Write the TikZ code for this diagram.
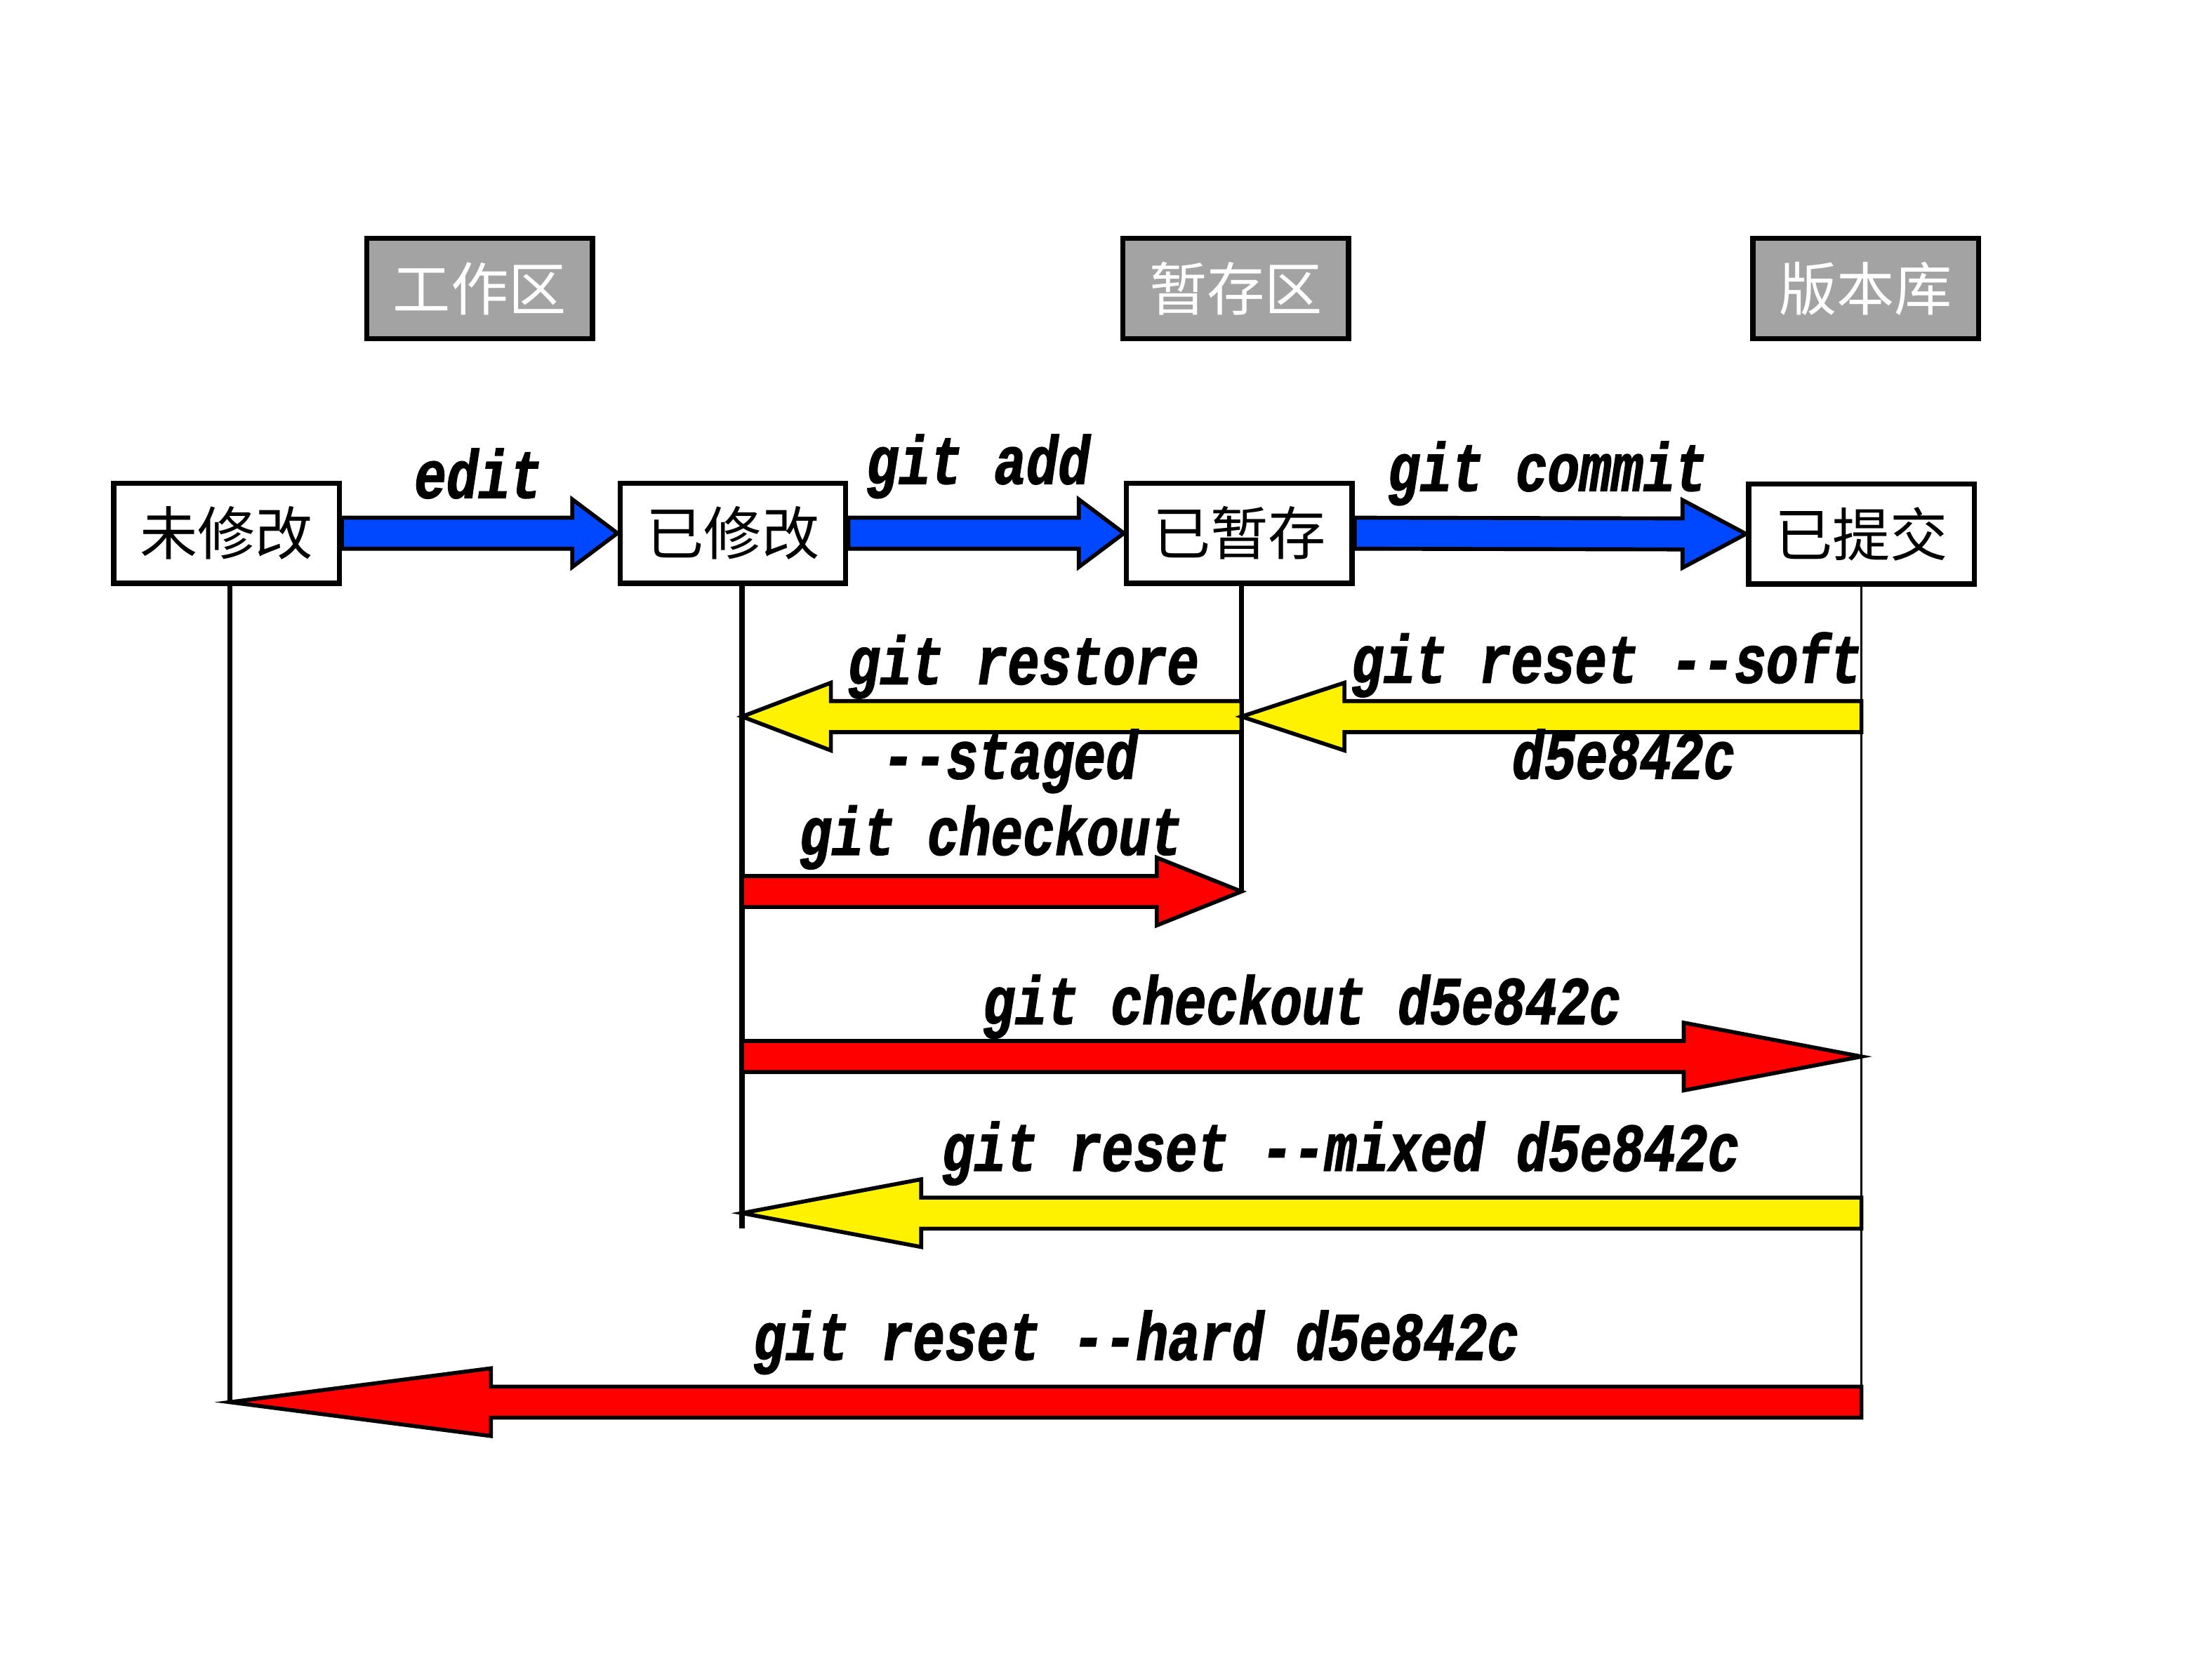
\documentclass[tikz,border=0pt]{standalone}
\usepackage{fontspec}
\newfontfamily\cjk{Noto Sans CJK SC}
\newfontfamily\codefont[FakeStretch=0.78, FakeBold=1.6]{Liberation Mono}
\usetikzlibrary{calc}
\definecolor{boxgray}{RGB}{163,163,163}
\definecolor{addblue}{RGB}{0,72,255}
\newcommand{\dd}{-\kern0pt-}
% block arrow: fill, from, to, signed head length
\newcommand{\fatarrow}[4]{%
  \coordinate (hb) at ($(#3)+(#4,0)$);
  \filldraw[fill=#1, line width=1.6pt, line join=miter] ($(#2)+(0,-11)$) -- ($(hb)+(0,-11)$) -- ($(hb)+(0,-24)$) -- (#3) -- ($(hb)+(0,24)$) -- ($(hb)+(0,11)$) -- ($(#2)+(0,11)$) -- cycle;
}

\begin{document}
\begin{tikzpicture}[x=0.02cm, y=-0.02cm,
  state/.style={draw, line width=2.1pt, minimum width=3.2cm, minimum height=1.42cm, inner sep=0pt, font=\cjk\fontsize{23.3}{25}\selectfont},
  area/.style={state, fill=boxgray, text=white},
  cmd/.style={anchor=base, inner sep=0pt, font=\codefont\bfseries\itshape\fontsize{27.5}{30}\selectfont}]
\useasboundingbox (0,0) rectangle (1568,1175);

\node[area] (area1) at (340,204.5) {工作区};
\node[area] (area2) at (876,204.5) {暂存区};
\node[area] (area3) at (1322.5,204.5) {版本库};

\node[state] (state1) at (160.5,378) {未修改};
\node[state] (state2) at (519.5,378) {已修改};
\node[state] (state3) at (878.5,378) {已暂存};
\node[state] (state4) at (1319.5,378.5) {已提交};

% where the lines leave the boxes
\coordinate (top1) at ($(state1.south)+(2.5,0)$);
\coordinate (top2) at ($(state2.south)+(6.5,0)$);
\coordinate (top3) at ($(state3.south)+(1.5,0)$);
\coordinate (top4) at (state4.south);

% rows of the arrows
\coordinate (row1) at (0,508);
\coordinate (row2) at (0,632);
\coordinate (row3) at (0,749);
\coordinate (row4) at (0,860);
\coordinate (row5) at (0,994);

\coordinate (m1) at (top2 |- row1);
\coordinate (s1) at (top3 |- row1);
\coordinate (c1) at (top4 |- row1);
\coordinate (m2) at (top2 |- row2);
\coordinate (s2) at (top3 |- row2);
\coordinate (m3) at (top2 |- row3);
\coordinate (c3) at (top4 |- row3);
\coordinate (m4) at (top2 |- row4);
\coordinate (c4) at (top4 |- row4);
\coordinate (w5) at (top1 |- row5);
\coordinate (c5) at (top4 |- row5);

\draw[line width=2.1pt] (top1) -- (w5);
\draw[line width=2.1pt] (top2) -- ($(m4)+(0,11)$);
\draw[line width=2.1pt] (top3) -- (s2);
\draw[line width=0.7pt] (top4) -- ($(c5)+(0,11)$);

\fatarrow{addblue}{state1.east}{state2.west}{-32}
\fatarrow{addblue}{state2.east}{state3.west}{-32}
\fatarrow{addblue}{state3.east}{state4.west}{-45}
\fatarrow{yellow}{s1}{m1}{63}
\fatarrow{yellow}{c1}{s1}{73}
\fatarrow{red}{m2}{s2}{-60}
\fatarrow{red}{m3}{c3}{-126}
\fatarrow{yellow}{c4}{m4}{127}
\fatarrow{red}{c5}{w5}{185}

\node[cmd] (label1) at (339,353) {edit};
\node[cmd] (label2) at (693.5,343) {git add};
\node[cmd] (label3) at (1097,348) {git commit};
\node[cmd] (label4) at (725.5,485) {git restore};
\node[cmd] (label5) at (716,552) {\dd staged};
\node[cmd] (label6) at (1139,484) {git reset \dd soft};
\node[cmd] (label7) at (1151,552) {d5e842c};
\node[cmd] (label8) at (702.5,606) {git checkout};
\node[cmd] (label9) at (923,726) {git checkout d5e842c};
\node[cmd] (label10) at (950.5,830) {git reset \dd mixed d5e842c};
\node[cmd] (label11) at (805.5,964) {git reset \dd hard d5e842c};
\end{tikzpicture}
\end{document}
